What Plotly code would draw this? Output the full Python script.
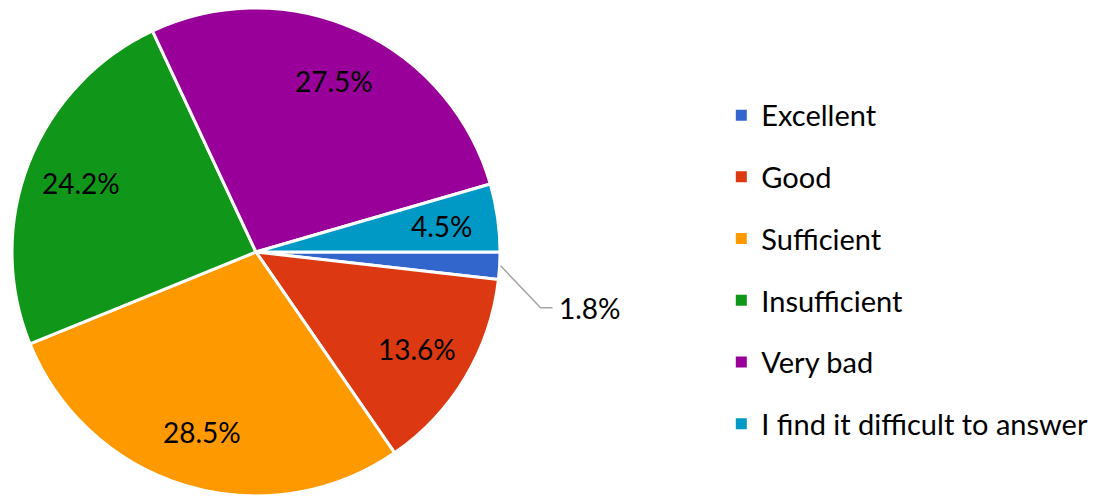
import math
import plotly.graph_objects as go

labels = ["Excellent", "Good", "Sufficient", "Insufficient", "Very bad", "I find it difficult to answer"]
values = [1.8, 13.6, 28.5, 24.2, 27.5, 4.5]
colors = ["#3366CC", "#DC3912", "#FF9900", "#109618", "#990099", "#0099C6"]

W, H = 1108, 496
FONT = "Lato, Open Sans, sans-serif"

# pie geometry (pixels)
cx, cy, R = 256, 252, 244
dom_x = [(cx - R) / W, (cx + R) / W]
dom_y = [max(0, 1 - (cy + R) / H), min(1, 1 - (cy - R) / H)]

texts = [f"{v:.1f}%" for v in values]

fig = go.Figure()
fig.add_trace(go.Pie(
    labels=labels, values=values, sort=False, direction="clockwise", rotation=90,
    marker=dict(colors=colors, line=dict(color="white", width=3)),
    textinfo="none",
    domain=dict(x=dom_x, y=dom_y), showlegend=False, hoverinfo="label+percent",
))

# legend entries
for i, (lab, col) in enumerate(zip(labels, colors)):
    fig.add_trace(go.Scatter(
        x=[None], y=[None], mode="markers", name=lab, legendgroup=f"g{i}",
        marker=dict(symbol="square", size=11, color=col),
    ))

# slice labels placed at slice mid-angles
total = sum(values)
cum = 0.0
for i, v in enumerate(values):
    mid = -(cum + v / 2) / total * 2 * math.pi  # clockwise from 3 o'clock
    cum += v
    if i == 0:
        x0 = cx + (R + 1) * math.cos(mid)
        y0 = cy - (R + 1) * math.sin(mid)
        x1, y1 = x0 + 40, y0 + 42
        x2 = x1 + 12
        fig.add_shape(type="path", xref="paper", yref="paper",
                      path=f"M {x0/W} {1-y0/H} L {x1/W} {1-y1/H} L {x2/W} {1-y1/H}",
                      line=dict(color="#A6A6A6", width=1.5))
        fig.add_annotation(x=(x2 + 4) / W, y=1 - y1 / H, xref="paper", yref="paper",
                           text=texts[i], showarrow=False, xanchor="left", yanchor="middle",
                           font=dict(family=FONT, size=28, color="black"))
    else:
        r = 0.77 * R
        tx = cx + r * math.cos(mid)
        ty = cy - r * math.sin(mid)
        fig.add_annotation(x=tx / W, y=1 - ty / H, xref="paper", yref="paper",
                           text=texts[i], showarrow=False, xanchor="center", yanchor="middle",
                           font=dict(family=FONT, size=28, color="black"))

fig.update_layout(
    width=W, height=H, margin=dict(l=0, r=0, t=0, b=0),
    paper_bgcolor="white", plot_bgcolor="white",
    xaxis=dict(visible=False), yaxis=dict(visible=False),
    legend=dict(x=0.651, y=0.456, yanchor="middle", xanchor="left",
                font=dict(family=FONT, size=29, color="black"),
                tracegroupgap=21, traceorder="grouped", itemwidth=30),
)
fig.write_html("out.html", post_script="document.body.style.margin='0';",
               config={"displayModeBar": False})
